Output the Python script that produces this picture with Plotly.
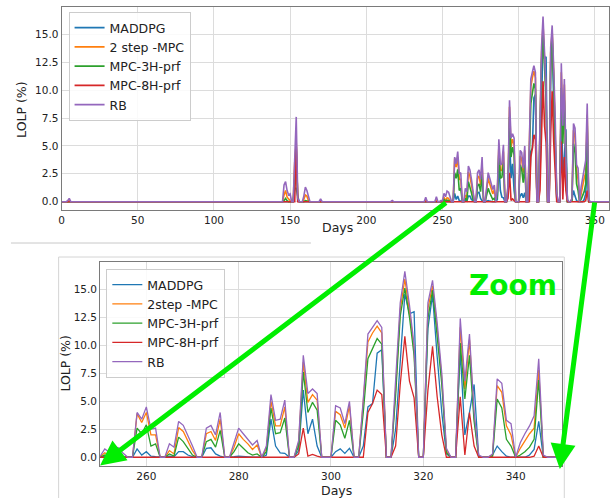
import numpy as np
import plotly.graph_objects as go

W, H = 610, 498

names_top = ["MADDPG", "2 step -MPC", "MPC-3H-prf", "MPC-8H-prf", "RB"]
names_zoom = ["MADDPG", "2step -MPC", "MPC-3H-prf", "MPC-8H-prf", "RB"]
colors = ["#1f77b4", "#ff7f0e", "#2ca02c", "#d62728", "#9467bd"]

n_days = 365

# isolated events before the zoomed window (all other days are 0)
early_days = [4, 5, 146, 147, 148, 149, 150, 153, 154, 155, 159, 160, 161, 162, 170, 217, 239, 246, 249]
early_maddpg = [0, 0, 0, 0, 0, 0, 0, 1.2, 1.2, 0.5, 0, 0, 0, 0, 0, 0, 0, 0, 0]
early_2step = [0, 0.1, 0.6, 1.0, 0.4, 0.2, 0.1, 3.5, 5.3, 0.2, 0.2, 0.6, 0.5, 0.1, 0, 0, 0.1, 0.1, 0]
early_3h = [0, 0, 0.1, 0.3, 0.1, 0, 0, 2.0, 4.9, 0.1, 0, 0.1, 0.05, 0, 0, 0, 0, 0, 0]
early_8h = [0, 0, 0, 0, 0, 0, 0, 0, 5.0, 0, 0, 0, 0, 0, 0, 0, 0, 0, 0]
early_rb = [0.1, 0.3, 1.5, 1.8, 1.0, 0.6, 0.7, 3.8, 7.6, 0.3, 0.5, 1.3, 1.0, 0.4, 0.25, 0.1, 0.4, 0.45, 0.1]

# days 250 .. 350
zoom_days = list(range(250, 351))
zoom_maddpg = [0, 0.1, 0, 0, 0, 0, 0, 0, 0.75, 0.2,
               0.5, 0.1, 0.05, 0, 0, 0.1, 0.05, 0.5, 0.5, 0.2,
               0.05, 0, 0, 0.8, 0.85, 0.3, 0.1, 0, 0, 0.05,
               0.1, 0.05, 0, 0, 0, 0, 0.2, 3.4, 1.0, 0.4,
               0.35, 0, 0, 0.6, 6.0, 2.1, 3.4, 1.0, 0, 0,
               0, 0.5, 0.75, 0.35, 0.8, 0, 0, 1.0, 4.5, 4.8,
               9.3, 9.6, 0, 0, 2.5, 8.5, 14.6, 12.8, 13.0, 0,
               0, 11.5, 14.5, 9.0, 4.0, 0.3, 0, 0, 9.5, 2.0,
               4.0, 6.5, 0, 0, 0, 0.2, 1.0, 0.5, 0.1, 0,
               0, 0, 0, 0.2, 0.7, 3.2, 0, 0, 0, 0, 0]
zoom_2step = [0.05, 0.4, 0.1, 0.35, 0.3, 0, 0, 0, 3.9, 3.1,
              4.0, 2.0, 2.0, 0, 0, 0.6, 0.3, 2.65, 2.3, 1.5,
              0.6, 0, 0, 2.1, 2.3, 1.5, 3.4, 0, 0, 0.9,
              2.1, 1.6, 1.2, 0.7, 1.1, 0, 0.8, 5.0, 2.8, 2.8,
              4.5, 0, 0, 1.3, 8.5, 4.9, 5.6, 5.1, 0, 0,
              0, 4.1, 3.8, 2.6, 4.6, 0, 0, 5.0, 10.3, 11.1,
              11.7, 11.1, 0, 0, 6.0, 13.2, 15.9, 13.1, 9.6, 0,
              0, 13.3, 15.3, 11.5, 7.0, 0.6, 0, 0, 11.6, 6.1,
              10.5, 3.6, 0.1, 0, 0, 0.2, 6.4, 5.8, 2.8, 2.0,
              0, 0.8, 1.5, 2.1, 2.6, 7.8, 0, 0, 0, 0, 0]
zoom_3h = [0, 0.2, 0.05, 0.15, 0.1, 0, 0, 0, 2.6, 2.1,
           2.9, 1.0, 1.2, 0, 0, 0.3, 0.1, 1.8, 1.4, 0.8,
           0.2, 0, 0, 1.4, 1.6, 0.9, 2.4, 0, 0, 0.5,
           1.2, 0.8, 0.4, 0.2, 0.3, 0, 0.5, 4.4, 2.1, 2.2,
           3.5, 0, 0, 1.0, 7.6, 4.0, 4.9, 4.2, 0, 0,
           0, 3.3, 2.9, 1.7, 3.3, 0, 0, 4.0, 8.8, 9.7,
           10.6, 10.1, 0, 0, 5.5, 12.6, 15.1, 12.5, 9.1, 0,
           0, 12.4, 14.9, 10.8, 6.5, 0.4, 0, 0, 10.2, 5.2,
           9.1, 3.2, 0, 0, 0, 0.1, 5.2, 4.4, 1.6, 1.0,
           0, 0.2, 0.5, 0.9, 1.6, 6.9, 0, 0, 0, 0, 0]
zoom_8h = [0, 0, 0, 0, 0, 0, 0, 0, 0, 0,
           0, 0, 0, 0, 0, 0, 0, 0, 0, 0,
           0, 0, 0, 0, 0, 0, 0, 0, 0, 0,
           0, 0, 0, 0, 0, 0, 0, 0.05, 0.05, 0.05,
           0, 0, 0, 0.3, 2.6, 0.1, 0.25, 0.1, 0, 0,
           0, 0, 0, 0, 0, 0, 0, 0, 4.0, 4.8,
           6.0, 5.6, 0, 0, 1.0, 6.5, 10.8, 6.8, 5.3, 0,
           0, 6.0, 9.9, 5.4, 2.0, 0, 0, 0, 5.4, 0.2,
           4.0, 1.0, 0, 0, 0, 0, 0, 0, 0, 0,
           0, 0, 0, 0, 0.1, 1.0, 0, 0, 0, 0, 0]
zoom_rb = [0.1, 0.75, 0.45, 0.95, 0.85, 0.35, 0, 0, 4.0, 3.4,
           4.5, 2.5, 2.6, 0, 0, 1.2, 0.9, 3.2, 2.85, 2.0,
           1.0, 0, 0, 2.6, 2.85, 2.0, 4.0, 0, 0, 1.3,
           2.6, 2.1, 1.6, 1.1, 1.5, 0, 1.0, 5.6, 3.3, 3.4,
           5.1, 0, 0, 1.5, 9.1, 5.7, 6.1, 5.7, 0, 0,
           0, 4.6, 4.4, 3.0, 5.0, 0, 0, 5.2, 11.0, 11.6,
           12.2, 11.6, 0, 0, 6.5, 13.8, 16.6, 13.6, 10.0, 0,
           0, 13.8, 15.8, 12.0, 7.5, 0.8, 0, 0, 12.4, 6.8,
           11.0, 4.0, 0.2, 0, 0, 0.3, 7.0, 6.6, 3.3, 3.0,
           0, 1.3, 2.1, 2.8, 3.7, 8.8, 0.2, 0, 0, 0, 0]

top_xticks = [0, 50, 100, 150, 200, 250, 300, 350]
zoom_xticks = [260, 280, 300, 320, 340]
yticks = [0.0, 2.5, 5.0, 7.5, 10.0, 12.5, 15.0]

days = np.arange(n_days)


def build(early, zoom):
    s = np.zeros(n_days)
    s[early_days] = early
    s[zoom_days] = zoom
    return s


series = [
    build(early_maddpg, zoom_maddpg),
    build(early_2step, zoom_2step),
    build(early_3h, zoom_3h),
    build(early_8h, zoom_8h),
    build(early_rb, zoom_rb),
]

fig = go.Figure()
for s, nm, c in zip(series, names_top, colors):
    fig.add_trace(go.Scatter(x=days, y=s, mode="lines", name=nm,
                             line=dict(color=c, width=1.6), xaxis="x", yaxis="y",
                             legend="legend"))
for s, nm, c in zip(series, names_zoom, colors):
    fig.add_trace(go.Scatter(x=days, y=s, mode="lines", name=nm,
                             line=dict(color=c, width=1.3), xaxis="x2", yaxis="y2",
                             legend="legend2"))


def px(p):
    return p / W


def py(p):
    return 1 - p / H


FRAME = "#7a7a7a"
GRID = "#dcdcdc"
tickfont = dict(family="DejaVu Sans", size=10.5, color="#222")
axcommon = dict(showline=True, mirror=True, linecolor=FRAME, linewidth=1,
                showgrid=True, gridcolor=GRID, gridwidth=1, zeroline=False,
                ticks="", tickfont=tickfont)

fig.update_layout(
    width=W, height=H, margin=dict(l=0, r=0, t=0, b=0),
    paper_bgcolor="white", plot_bgcolor="white",
    xaxis=dict(domain=[px(59), 1.0], range=[0, 359.3], tickvals=top_xticks,
               anchor="y", **axcommon),
    yaxis=dict(domain=[py(210), py(7)], range=[-0.744, 17.45], tickvals=yticks,
               tickformat=".1f", anchor="x", **axcommon),
    xaxis2=dict(domain=[px(97.8), px(562.5)], range=[250, 350], tickvals=zoom_xticks,
                anchor="y2", **axcommon),
    yaxis2=dict(domain=[py(466), py(262.3)], range=[-0.78, 17.41], tickvals=yticks,
                tickformat=".1f", anchor="x2", **axcommon),
    legend=dict(x=px(66), y=py(12), xanchor="left", yanchor="top",
                bgcolor="rgba(255,255,255,0.85)", bordercolor="#cccccc", borderwidth=1,
                font=dict(family="DejaVu Sans", size=12.5, color="#222"),
                itemwidth=30, tracegroupgap=0),
    legend2=dict(x=px(104), y=py(269), xanchor="left", yanchor="top",
                 bgcolor="rgba(255,255,255,0.85)", bordercolor="#cccccc", borderwidth=1,
                 font=dict(family="DejaVu Sans", size=12.5, color="#222"),
                 itemwidth=30, tracegroupgap=0),
    showlegend=True,
)

# page decorations: separator line and frame around the zoom figure
fig.add_shape(type="line", xref="paper", yref="paper", x0=px(8), x1=px(310),
              y0=py(243), y1=py(243), line=dict(color="#c8c8c8", width=1))
fig.add_shape(type="rect", xref="paper", yref="paper", x0=px(56), x1=px(565),
              y0=py(505), y1=py(257), line=dict(color="#d4d4d4", width=1))

label_font = dict(family="DejaVu Sans", size=12.5, color="#222")
fig.add_annotation(text="Days", x=px(337), y=py(228), xref="paper", yref="paper",
                   showarrow=False, font=label_font, xanchor="center", yanchor="middle")
fig.add_annotation(text="LOLP (%)", x=px(19), y=py(110), xref="paper", yref="paper",
                   showarrow=False, font=label_font, textangle=-90,
                   xanchor="center", yanchor="middle")
fig.add_annotation(text="Days", x=px(336), y=py(490), xref="paper", yref="paper",
                   showarrow=False, font=label_font, xanchor="center", yanchor="middle")
fig.add_annotation(text="LOLP (%)", x=px(62.5), y=py(363.5), xref="paper", yref="paper",
                   showarrow=False, font=label_font, textangle=-90,
                   xanchor="center", yanchor="middle")

GREEN = "#00ee00"
# zoom arrows (head at the bottom panel corners, tail at the top panel's 250 / 350 days)
fig.add_annotation(text="", x=px(97.7), y=py(465.5), xref="paper", yref="paper",
                   ax=445 - 97.7, ay=201.7 - 465.5, axref="pixel", ayref="pixel",
                   showarrow=True, arrowhead=2, arrowsize=1.0, arrowwidth=5,
                   arrowcolor=GREEN)
fig.add_annotation(text="", x=px(560.5), y=py(469), xref="paper", yref="paper",
                   ax=595.5 - 560.5, ay=201 - 469, axref="pixel", ayref="pixel",
                   showarrow=True, arrowhead=2, arrowsize=1.0, arrowwidth=5,
                   arrowcolor=GREEN)
fig.add_annotation(text="<b>Zoom</b>", x=px(513.4), y=py(285), xref="paper", yref="paper",
                   showarrow=False, font=dict(family="DejaVu Sans", size=28, color=GREEN),
                   xanchor="center", yanchor="middle")

fig.write_html("out.html")
